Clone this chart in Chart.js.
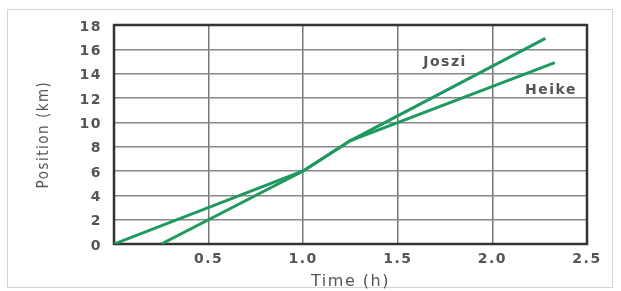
<!DOCTYPE html>
<html>
<head>
<meta charset="utf-8">
<script src="https://cdn.jsdelivr.net/npm/chart.js@4.4.1/dist/chart.umd.min.js"></script>
<style>
  html, body { margin: 0; padding: 0; background: #fff; }
  canvas { display: block; }
</style>
</head>
<body>
<canvas id="chart" width="621" height="291"></canvas>
<script>
// Datos
const joszeTime = [0.25, 1.0, 1.25, 2.28];
const joszePos = [0, 6, 8.5, 16.9];
const heikeTime = [0, 1.0, 1.25, 2.33];
const heikePos = [0, 6, 8.5, 14.9];
const xTicks = [0, 0.5, 1.0, 1.5, 2.0, 2.5];
const yTicks = [0, 2, 4, 6, 8, 10, 12, 14, 16, 18];

// Etiquetas de las series (en coordenadas de datos)
const seriesLabels = [
  { text: 'Joszi', x: 1.75, y: 14.9 },
  { text: 'Heike', x: 2.31, y: 12.65 }
];

const GREEN = '#1e9960';
const TEXT = '#555';

function toPoints(xs, ys) {
  return xs.map((x, i) => ({ x: x, y: ys[i] }));
}

// Fondo, marco exterior, espaciado de letras
const framePlugin = {
  id: 'frame',
  beforeLayout(chart) {
    chart.ctx.letterSpacing = '1.5px';
  },
  beforeDraw(chart) {
    const ctx = chart.ctx;
    ctx.letterSpacing = '1.5px';
    ctx.save();
    ctx.fillStyle = '#fff';
    ctx.fillRect(0, 0, chart.width, chart.height);
    ctx.strokeStyle = '#d4d4d4';
    ctx.lineWidth = 1;
    ctx.strokeRect(7.5, 9.5, 605, 278);
    ctx.restore();
  },
  beforeDatasetsDraw(chart) {
    const a = chart.chartArea;
    const ctx = chart.ctx;
    ctx.save();
    ctx.strokeStyle = '#333';
    ctx.lineWidth = 2.5;
    ctx.strokeRect(a.left, a.top, a.right - a.left, a.bottom - a.top);
    ctx.restore();
  },
  afterDatasetsDraw(chart) {
    const ctx = chart.ctx;
    const xs = chart.scales.x, ys = chart.scales.y;
    ctx.save();
    ctx.font = 'bold 14px "DejaVu Sans", sans-serif';
    ctx.fillStyle = TEXT;
    ctx.textAlign = 'center';
    ctx.textBaseline = 'middle';
    seriesLabels.forEach(l => {
      ctx.fillText(l.text, xs.getPixelForValue(l.x), ys.getPixelForValue(l.y));
    });
    ctx.restore();
  }
};

new Chart(document.getElementById('chart').getContext('2d'), {
  type: 'scatter',
  data: {
    datasets: [
      {
        label: 'Joszi',
        data: toPoints(joszeTime, joszePos),
        showLine: true,
        borderColor: GREEN,
        borderWidth: 3,
        pointRadius: 0,
        tension: 0
      },
      {
        label: 'Heike',
        data: toPoints(heikeTime, heikePos),
        showLine: true,
        borderColor: GREEN,
        borderWidth: 3,
        pointRadius: 0,
        tension: 0
      }
    ]
  },
  options: {
    responsive: false,
    animation: false,
    layout: { padding: { left: 35, right: 34, top: 25, bottom: 0 } },
    plugins: {
      legend: { display: false },
      tooltip: { enabled: false }
    },
    scales: {
      x: {
        type: 'linear',
        min: 0,
        max: 2.5,
        afterBuildTicks: s => { s.ticks = xTicks.map(v => ({ value: v })); },
        afterFit: s => { s.height = 47; },
        grid: { color: '#777', lineWidth: 1.5, drawTicks: false },
        border: { display: false },
        ticks: {
          padding: 7,
          color: TEXT,
          font: { family: '"DejaVu Sans", sans-serif', size: 14, weight: 'bold' },
          callback: v => v === 0 ? '' : v.toFixed(1)
        },
        title: {
          display: true,
          text: 'Time (h)',
          color: TEXT,
          padding: { top: 0, bottom: 0 },
          font: { family: '"DejaVu Sans", sans-serif', size: 16 }
        }
      },
      y: {
        type: 'linear',
        min: 0,
        max: 18,
        afterBuildTicks: s => { s.ticks = yTicks.map(v => ({ value: v })); },
        afterFit: s => { s.width = 79; },
        grid: { color: '#888', lineWidth: 1.5, drawTicks: false },
        border: { display: false },
        ticks: {
          padding: 12,
          labelOffset: 2,
          color: TEXT,
          font: { family: '"DejaVu Sans", sans-serif', size: 14, weight: 'bold' }
        },
        title: {
          display: true,
          text: 'Position (km)',
          color: TEXT,
          padding: { top: 0, bottom: 0 },
          font: { family: '"Liberation Sans Narrow", "DejaVu Sans Condensed", sans-serif', size: 15 }
        }
      }
    }
  },
  plugins: [framePlugin]
});
</script>
</body>
</html>
